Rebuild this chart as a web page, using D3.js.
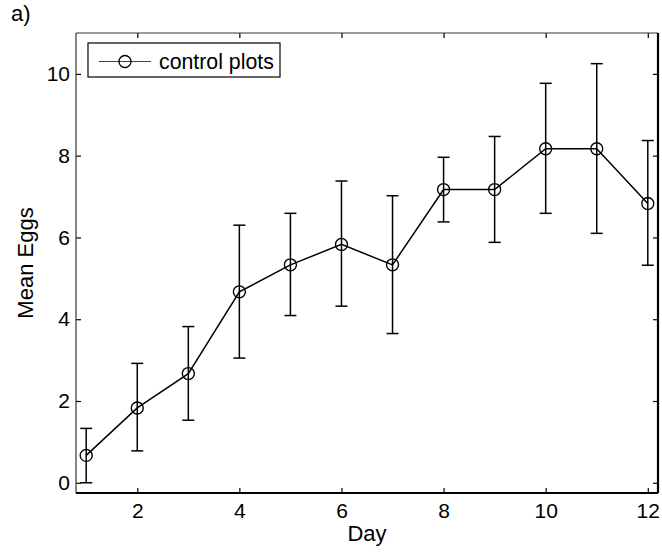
<!DOCTYPE html>
<html>
<head>
<meta charset="utf-8">
<script src="https://cdn.jsdelivr.net/npm/d3@7"></script>
<style>
body { margin: 0; background: #fff; }
svg { display: block; font-family: "Liberation Sans", Arial, sans-serif; }
</style>
</head>
<body>
<svg width="662" height="556"></svg>
<script>
// values
const days = [1, 2, 3, 4, 5, 6, 7, 8, 9, 10, 11, 12];
const meanEggs = [0.67, 1.83, 2.67, 4.67, 5.33, 5.83, 5.33, 7.17, 7.17, 8.17, 8.17, 6.83];
const upperBar = [1.33, 2.92, 3.82, 6.30, 6.59, 7.38, 7.02, 7.96, 8.47, 9.77, 10.25, 8.37];
const lowerBar = [0.00, 0.78, 1.53, 3.05, 4.09, 4.32, 3.65, 6.38, 5.88, 6.59, 6.10, 5.32];
const xTicks = [2, 4, 6, 8, 10, 12];
const yTicks = [0, 2, 4, 6, 8, 10];
const seriesName = 'control plots';

const plotL = 76, plotR = 658, plotT = 33, plotB = 493;

const svg = d3.select('svg');

const x = d3.scaleLinear().domain([0.8, 12.2]).range([plotL, plotR]);
const y = d3.scaleLinear().domain([-0.25, 11]).range([plotB, plotT]);

const data = days.map((d, i) => ({ day: d, mean: meanEggs[i], hi: upperBar[i], lo: lowerBar[i] }));

// axes with inward ticks
function styleAxis(g) {
    g.select('.domain').remove();
    g.selectAll('.tick line').attr('stroke', '#000').attr('stroke-width', 1.2);
    g.selectAll('.tick text').attr('fill', '#000').style('font-size', '21px');
}

svg.append('g').attr('transform', `translate(0, ${plotB})`)
    .call(d3.axisBottom(x).tickValues(xTicks).tickSizeInner(-5).tickSizeOuter(0).tickPadding(10))
    .call(styleAxis);
svg.append('g').attr('transform', `translate(0, ${plotT})`)
    .call(d3.axisTop(x).tickValues(xTicks).tickSizeInner(-5).tickSizeOuter(0).tickFormat(''))
    .call(styleAxis);
svg.append('g').attr('transform', `translate(${plotL}, 0)`)
    .call(d3.axisLeft(y).tickValues(yTicks).tickSizeInner(-5).tickSizeOuter(0).tickPadding(6))
    .call(styleAxis);
svg.append('g').attr('transform', `translate(${plotR}, 0)`)
    .call(d3.axisRight(y).tickValues(yTicks).tickSizeInner(-5).tickSizeOuter(0).tickFormat(''))
    .call(styleAxis);

// frame
svg.append('line').attr('x1', plotL).attr('x2', plotR).attr('y1', plotT).attr('y2', plotT).attr('stroke', '#333').attr('stroke-width', 1);
svg.append('line').attr('x1', plotL).attr('x2', plotL).attr('y1', plotT).attr('y2', plotB).attr('stroke', '#333').attr('stroke-width', 1.2);
svg.append('line').attr('x1', plotL).attr('x2', plotR).attr('y1', plotB).attr('y2', plotB).attr('stroke', '#000').attr('stroke-width', 2.2);
svg.append('line').attr('x1', plotR).attr('x2', plotR).attr('y1', plotT).attr('y2', plotB).attr('stroke', '#000').attr('stroke-width', 2.2);

// error bars
const eb = svg.append('g').attr('stroke', '#000').attr('stroke-width', 1.5);
eb.selectAll('.stem').data(data).enter().append('line')
    .attr('x1', d => x(d.day)).attr('x2', d => x(d.day))
    .attr('y1', d => y(d.lo)).attr('y2', d => y(d.hi));
eb.selectAll('.capHi').data(data).enter().append('line')
    .attr('x1', d => x(d.day) - 6).attr('x2', d => x(d.day) + 6)
    .attr('y1', d => y(d.hi)).attr('y2', d => y(d.hi));
eb.selectAll('.capLo').data(data).enter().append('line')
    .attr('x1', d => x(d.day) - 6).attr('x2', d => x(d.day) + 6)
    .attr('y1', d => y(d.lo)).attr('y2', d => y(d.lo));

// mean line and markers
svg.append('path').datum(data)
    .attr('fill', 'none').attr('stroke', '#000').attr('stroke-width', 1.5)
    .attr('d', d3.line().x(d => x(d.day)).y(d => y(d.mean)));
svg.selectAll('.pt').data(data).enter().append('circle')
    .attr('cx', d => x(d.day)).attr('cy', d => y(d.mean)).attr('r', 6)
    .attr('fill', 'none').attr('stroke', '#000').attr('stroke-width', 1.4);

// legend
const lg = svg.append('g');
lg.append('rect').attr('x', 88).attr('y', 43).attr('width', 192).attr('height', 34)
    .attr('fill', '#fff').attr('stroke', '#000').attr('stroke-width', 1.2);
lg.append('line').attr('x1', 99).attr('x2', 151).attr('y1', 61.5).attr('y2', 61.5).attr('stroke', '#444').attr('stroke-width', 1);
lg.append('circle').attr('cx', 125).attr('cy', 61.5).attr('r', 6).attr('fill', 'none').attr('stroke', '#000').attr('stroke-width', 1.3);
lg.append('text').attr('x', 159).attr('y', 68.5).style('font-size', '21.3px').text(seriesName);

// labels
svg.append('text').attr('x', (plotL + plotR) / 2).attr('y', 541).attr('text-anchor', 'middle')
    .style('font-size', '22px').text('Day');
svg.append('text').attr('transform', 'translate(33, 263) rotate(-90)').attr('text-anchor', 'middle')
    .style('font-size', '22px').text('Mean Eggs');
svg.append('text').attr('x', 11).attr('y', 21).style('font-size', '22px').text('a)');
</script>
</body>
</html>
